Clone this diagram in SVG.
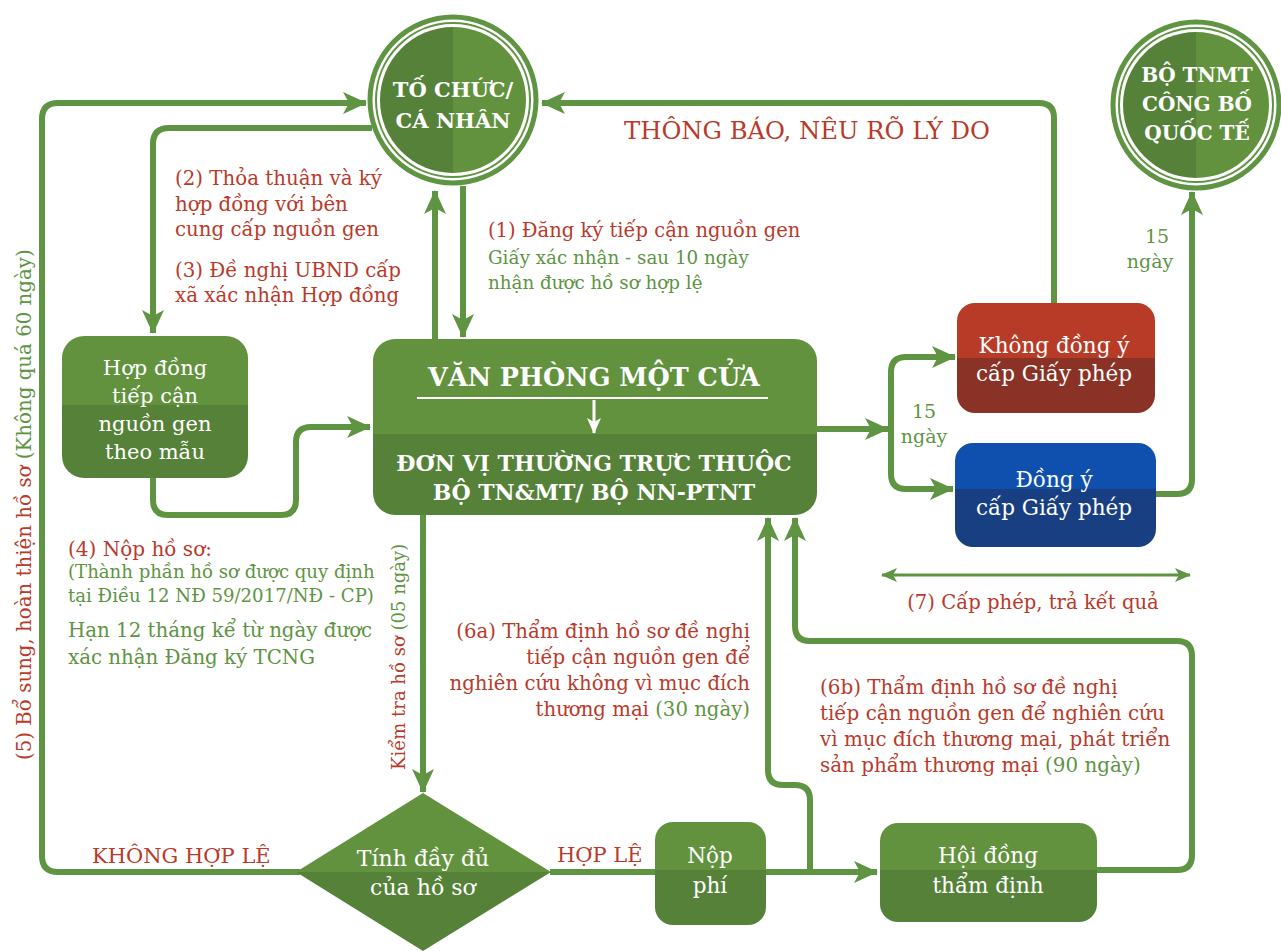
<svg xmlns="http://www.w3.org/2000/svg" width="1281" height="951" viewBox="0 0 1281 951">
<style>
.ln{fill:none;stroke:#5f9442;stroke-width:6;stroke-linejoin:round}
.thin{fill:none;stroke:#5f9442;stroke-width:3}
text{font-family:"DejaVu Serif","Liberation Serif",serif}
.w{fill:#fff}
.r{fill:#b93a2a}
.g{fill:#5e9443}
.b{font-weight:bold}
</style>
<defs>
<marker id="ah" markerUnits="userSpaceOnUse" viewBox="0 0 24 22" markerWidth="24" markerHeight="22" refX="23" refY="11" orient="auto"><path d="M0,0 L24,11 L0,22 L6,11 Z" fill="#5f9442"/></marker>
<marker id="ahs" markerUnits="userSpaceOnUse" viewBox="0 0 16 14" markerWidth="16" markerHeight="14" refX="15" refY="7" orient="auto-start-reverse"><path d="M0,0 L16,7 L0,14 L4,7 Z" fill="#5f9442"/></marker>
<marker id="ahw" markerUnits="userSpaceOnUse" viewBox="0 0 16 14" markerWidth="16" markerHeight="14" refX="15" refY="7" orient="auto"><path d="M0,0 L16,7 L0,14 L4,7 Z" fill="#fff"/></marker>
<linearGradient id="gv50" x1="0" y1="0" x2="0" y2="1"><stop offset="0.5" stop-color="#63923f"/><stop offset="0.5" stop-color="#568139"/></linearGradient>
<linearGradient id="gv49" x1="0" y1="0" x2="0" y2="1"><stop offset="0.486" stop-color="#63923f"/><stop offset="0.486" stop-color="#568139"/></linearGradient>
<linearGradient id="gv54" x1="0" y1="0" x2="0" y2="1"><stop offset="0.54" stop-color="#63923f"/><stop offset="0.54" stop-color="#568139"/></linearGradient>
<linearGradient id="gv47" x1="0" y1="0" x2="0" y2="1"><stop offset="0.47" stop-color="#63923f"/><stop offset="0.47" stop-color="#568139"/></linearGradient>
<linearGradient id="gred" x1="0" y1="0" x2="0" y2="1"><stop offset="0.5" stop-color="#b83b28"/><stop offset="0.5" stop-color="#8b3226"/></linearGradient>
<linearGradient id="gblue" x1="0" y1="0" x2="0" y2="1"><stop offset="0.44" stop-color="#0f4fae"/><stop offset="0.44" stop-color="#173f82"/></linearGradient>
<linearGradient id="gc" x1="0" y1="0" x2="1" y2="0"><stop offset="0.5" stop-color="#558139"/><stop offset="0.5" stop-color="#63923f"/></linearGradient>
</defs>

<g id="connectors">
<path class="ln" d="M300 872 H58 Q42 872 42 856 V119 Q42 103 58 103 H366" marker-end="url(#ah)"/>
<path class="ln" d="M372 128 H169 Q153 128 153 144 V333" marker-end="url(#ah)"/>
<path class="ln" d="M435 340 V191" marker-end="url(#ah)"/>
<path class="ln" d="M463 186 V337" marker-end="url(#ah)"/>
<path class="ln" d="M153 478 V500 Q153 515 168 515 H281 Q296 515 296 500 V442 Q296 427 311 427 H370" marker-end="url(#ah)"/>
<path class="ln" d="M817 429 H888" marker-end="url(#ah)"/>
<path class="ln" d="M891 429 V372 Q891 357 906 357 H955" marker-end="url(#ah)"/>
<path class="ln" d="M891 429 V474 Q891 489 906 489 H953" marker-end="url(#ah)"/>
<path class="ln" d="M1054 303 V118 Q1054 103 1039 103 H542" marker-end="url(#ah)"/>
<path class="ln" d="M1156 494 H1177 Q1192 494 1192 479 V192" marker-end="url(#ah)"/>
<path class="thin" d="M882 575 H1190" marker-start="url(#ahs)" marker-end="url(#ahs)"/>
<path class="ln" d="M423 515 V792" marker-end="url(#ah)"/>
<path class="ln" d="M550 872 H877" marker-end="url(#ah)"/>
<path class="ln" d="M810 872 V800 Q810 785 795 785 H783 Q768 785 768 770 V518" marker-end="url(#ah)"/>
<path class="ln" d="M1097 870 H1177 Q1192 870 1192 855 V656 Q1192 641 1177 641 H810 Q795 641 795 626 V518" marker-end="url(#ah)"/>
</g>

<g id="to-chuc">
<circle cx="453" cy="100" r="83" fill="#fff" stroke="#5f9442" stroke-width="5"/>
<circle cx="453" cy="100" r="77" fill="none" stroke="#5f9442" stroke-width="2"/>
<circle cx="453" cy="100" r="73" fill="url(#gc)"/>
<text class="w" x="453" y="97" text-anchor="middle" font-size="21" font-weight="600">TỐ CHỨC/</text>
<text class="w" x="453" y="128" text-anchor="middle" font-size="21" font-weight="600">CÁ NHÂN</text>
</g>

<g id="bo-tnmt">
<circle cx="1196" cy="105" r="83" fill="#fff" stroke="#5f9442" stroke-width="5"/>
<circle cx="1196" cy="105" r="77" fill="none" stroke="#5f9442" stroke-width="2"/>
<circle cx="1196" cy="105" r="73" fill="url(#gc)"/>
<text class="w b" x="1197" y="82" text-anchor="middle" font-size="20">BỘ TNMT</text>
<text class="w b" x="1197" y="111" text-anchor="middle" font-size="20">CÔNG BỐ</text>
<text class="w b" x="1197" y="140" text-anchor="middle" font-size="20">QUỐC TẾ</text>
</g>

<g id="hop-dong">
<rect x="62" y="336" width="186" height="142" rx="22" fill="url(#gv49)"/>
<text class="w" font-size="21" text-anchor="middle"><tspan x="155" y="375">Hợp đồng</tspan><tspan x="155" y="403">tiếp cận</tspan><tspan x="155" y="431">nguồn gen</tspan><tspan x="155" y="459">theo mẫu</tspan></text>
</g>

<g id="van-phong">
<rect x="373" y="339" width="444" height="176" rx="22" fill="url(#gv54)"/>
<text class="w b" x="594" y="386" text-anchor="middle" font-size="25.5">VĂN PHÒNG MỘT CỬA</text>
<line x1="417" y1="398" x2="768" y2="398" stroke="#fff" stroke-width="2"/>
<line x1="594" y1="400" x2="594" y2="433" stroke="#fff" stroke-width="3" marker-end="url(#ahw)"/>
<text class="w b" x="594" y="471" text-anchor="middle" font-size="22">ĐƠN VỊ THƯỜNG TRỰC THUỘC</text>
<text class="w b" x="594" y="500" text-anchor="middle" font-size="22">BỘ TN&amp;MT/ BỘ NN-PTNT</text>
</g>

<g id="khong-dong-y">
<rect x="957" y="303" width="198" height="110" rx="18" fill="url(#gred)"/>
<text class="w" x="1054" y="353" text-anchor="middle" font-size="21.5">Không đồng ý</text>
<text class="w" x="1054" y="381" text-anchor="middle" font-size="21.5">cấp Giấy phép</text>
</g>

<g id="dong-y">
<rect x="955" y="443" width="201" height="104" rx="18" fill="url(#gblue)"/>
<text class="w" x="1054" y="487" text-anchor="middle" font-size="21.5">Đồng ý</text>
<text class="w" x="1054" y="515" text-anchor="middle" font-size="21.5">cấp Giấy phép</text>
</g>

<g id="tinh-day-du">
<polygon points="423,793 551,872 423,951 296,872" fill="url(#gv50)"/>
<text class="w" x="423" y="866" text-anchor="middle" font-size="22">Tính đầy đủ</text>
<text class="w" x="423" y="895" text-anchor="middle" font-size="22">của hồ sơ</text>
</g>

<g id="nop-phi">
<rect x="655" y="822" width="111" height="103" rx="18" fill="url(#gv47)"/>
<text class="w" x="710" y="863" text-anchor="middle" font-size="21.5">Nộp</text>
<text class="w" x="710" y="893" text-anchor="middle" font-size="21.5">phí</text>
</g>

<g id="hoi-dong">
<rect x="880" y="823" width="217" height="99" rx="18" fill="url(#gv47)"/>
<text class="w" x="988" y="863" text-anchor="middle" font-size="21.5">Hội đồng</text>
<text class="w" x="988" y="893" text-anchor="middle" font-size="21.5">thẩm định</text>
</g>

<g id="labels">
<text class="r" font-size="19.8"><tspan x="175" y="185">(2) Thỏa thuận và ký</tspan><tspan x="175" y="211">hợp đồng với bên</tspan><tspan x="175" y="236">cung cấp nguồn gen</tspan></text>
<text class="r" font-size="19.8"><tspan x="175" y="277">(3) Đề nghị UBND cấp</tspan><tspan x="175" y="302">xã xác nhận Hợp đồng</tspan></text>
<text class="r" x="488" y="237" font-size="19.5">(1) Đăng ký tiếp cận nguồn gen</text>
<text class="g" font-size="18.3"><tspan x="488" y="264">Giấy xác nhận - sau 10 ngày</tspan><tspan x="488" y="289">nhận được hồ sơ hợp lệ</tspan></text>
<text class="r" x="624" y="139" font-size="24.3">THÔNG BÁO, NÊU RÕ LÝ DO</text>
<text class="g" font-size="19" text-anchor="middle"><tspan x="1157" y="243">15</tspan><tspan x="1150" y="268">ngày</tspan></text>
<text class="g" font-size="19" text-anchor="middle"><tspan x="924" y="418">15</tspan><tspan x="924" y="443">ngày</tspan></text>
<text class="r" x="1033" y="609" text-anchor="middle" font-size="19.6">(7) Cấp phép, trả kết quả</text>
<text class="r" x="68" y="556" font-size="20">(4) Nộp hồ sơ:</text>
<text class="g" font-size="18.1"><tspan x="68" y="578">(Thành phần hồ sơ được quy định</tspan><tspan x="68" y="602">tại Điều 12 NĐ 59/2017/NĐ - CP)</tspan></text>
<text class="g" font-size="19.8"><tspan x="68" y="637">Hạn 12 tháng kể từ ngày được</tspan><tspan x="68" y="664">xác nhận Đăng ký TCNG</tspan></text>
<text font-size="19.8" transform="translate(31 760) rotate(-90)"><tspan class="r">(5) Bổ sung, hoàn thiện hồ sơ </tspan><tspan class="g">(Không quá 60 ngày)</tspan></text>
<text font-size="18" transform="translate(405 770) rotate(-90)"><tspan class="r">Kiểm tra hồ sơ </tspan><tspan class="g">(05 ngày)</tspan></text>
<text class="r" font-size="19.7" text-anchor="end"><tspan x="750" y="638">(6a) Thẩm định hồ sơ đề nghị</tspan><tspan x="750" y="664">tiếp cận nguồn gen để</tspan><tspan x="750" y="690">nghiên cứu không vì mục đích</tspan><tspan x="750" y="716">thương mại <tspan class="g">(30 ngày)</tspan></tspan></text>
<text class="r" font-size="19.9"><tspan x="820" y="694">(6b) Thẩm định hồ sơ đề nghị</tspan><tspan x="820" y="720">tiếp cận nguồn gen để nghiên cứu</tspan><tspan x="820" y="746">vì mục đích thương mại, phát triển</tspan><tspan x="820" y="772">sản phẩm thương mại <tspan class="g">(90 ngày)</tspan></tspan></text>
<text class="r" x="92" y="863" font-size="21">KHÔNG HỢP LỆ</text>
<text class="r" x="557" y="862" font-size="21">HỢP LỆ</text>
</g>
</svg>
